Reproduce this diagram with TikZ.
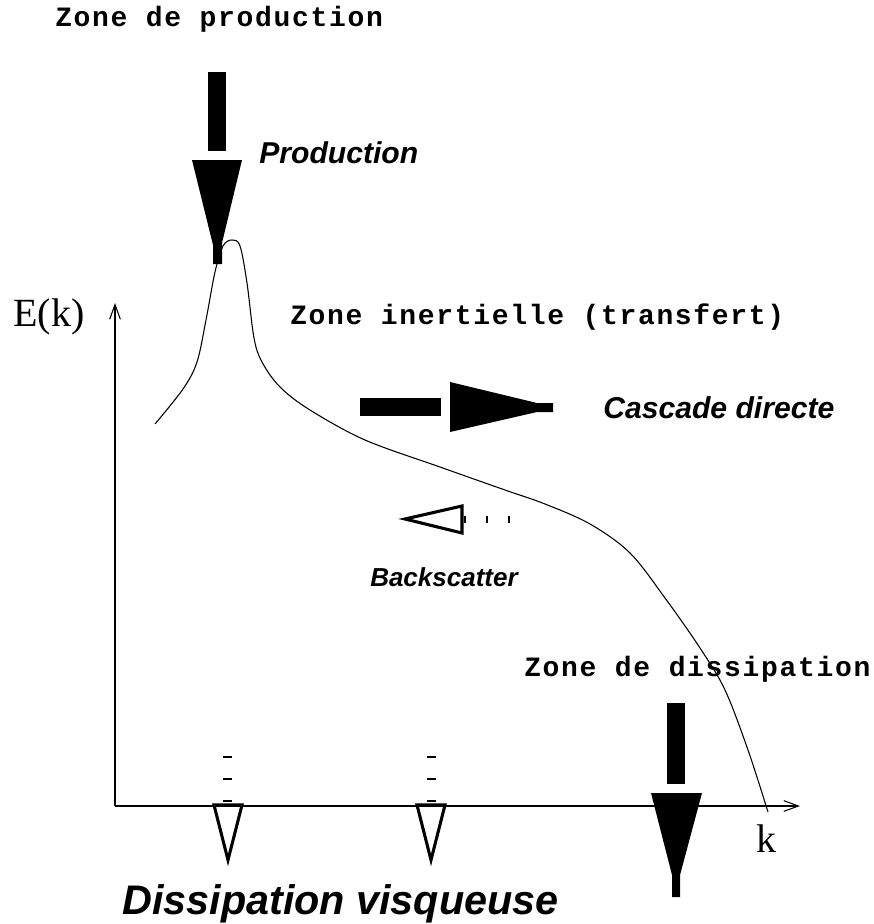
\documentclass[tikz,border=0pt]{standalone}
\usepackage{fontspec}
\usetikzlibrary{arrows.meta}
\newfontfamily\monofig{Liberation Mono}[LetterSpace=6]
\newfontfamily\sansfig{Liberation Sans}
\newfontfamily\seriffig{Liberation Serif}
\tikzset{
  curve/.style={line width=0.8pt, line join=round},
  axisline/.style={line width=0.8pt, -{Straight Barb[length=11pt, width=8pt, line width=0.8pt]}},
  solidhead/.style={fill=black, draw=none},
  openhead/.style={draw=black, line width=2.3pt, line join=miter},
  tick/.style={line width=1.6pt},
  zonelabel/.style={inner sep=0pt, anchor=base west, font=\monofig\bfseries\fontsize{21}{23}\selectfont},
  flowlabel/.style={inner sep=0pt, anchor=base west, font=\sansfig\bfseries\itshape\fontsize{22.6}{25}\selectfont},
  axislabel/.style={inner sep=0pt, anchor=base west, font=\seriffig\fontsize{30}{32}\selectfont}
}
\begin{document}
\begin{tikzpicture}[x=0.75pt, y=-0.75pt]
\useasboundingbox (0,0) rectangle (874,924);

% axes
\coordinate (origin) at (115,806);
\coordinate (ytop) at (115,303);
\coordinate (xend) at (800,806);
\draw[axisline] (origin) -- (ytop);
\draw[axisline] (origin) -- (xend);
\node[axislabel] (elabel) at (13,326) {E(k)};
\node[axislabel] (klabel) at (756,852) {k};

% energy spectrum
\draw[curve] plot[smooth, tension=0.55] coordinates {
  (155,424) (183,389) (197,362) (206,320) (215,272) (223,246) (232,240)
  (240,246) (247,283) (254,338) (262,362) (280,387) (310,410) (365,440)
  (440,467) (505,490) (545,504) (590,524) (630,553) (665,598) (700,648)
  (725,690) (748,750) (768,812)};

% production arrow
\fill[solidhead] (208,72) rectangle (226,151);
\fill[solidhead] (192,160) -- (242,160) -- (222,243) -- (222,264)
  -- (213,264) -- (213,245) -- cycle;
\node[flowlabel] (prod) at (259,163) {Production};
\node[zonelabel] (zprod) at (55,27) {Zone de production};

% inertial range
\node[zonelabel] (zinert) at (290,324) {Zone inertielle (transfert)};
\fill[solidhead] (360,398) rectangle (441,416);
\fill[solidhead] (450,382) -- (537,403) -- (553,403) -- (553,412)
  -- (537,412) -- (450,432) -- cycle;
\node[flowlabel] (casc) at (603,418) {Cascade directe};

% backscatter
\draw[openhead] (462,506) -- (405,519) -- (462,533) -- cycle;
\foreach \x in {465,487,509} \draw[tick] (\x,516) -- (\x,523);
\node[flowlabel, font=\sansfig\bfseries\itshape\fontsize{19.5}{21}\selectfont] (back) at (370,586) {Backscatter};

% dissipation range
\node[zonelabel] (zdiss) at (524,676) {Zone de dissipation};
\fill[solidhead] (667,703) rectangle (685,784);
\fill[solidhead] (651,793) -- (702,793) -- (680,875) -- (680,897)
  -- (672,897) -- (672,875) -- cycle;

% viscous dissipation arrows
\draw[openhead] (214,805) -- (242,805) -- (228,860) -- cycle;
\draw[openhead] (417,805) -- (445,805) -- (431,860) -- cycle;
\foreach \y in {757,779,801} {
  \draw[tick] (223,\y) -- (232,\y);
  \draw[tick] (427,\y) -- (436,\y);
}
\node[flowlabel, font=\sansfig\bfseries\itshape\fontsize{31}{34}\selectfont] (diss) at (122,914) {Dissipation visqueuse};
\end{tikzpicture}
\end{document}
